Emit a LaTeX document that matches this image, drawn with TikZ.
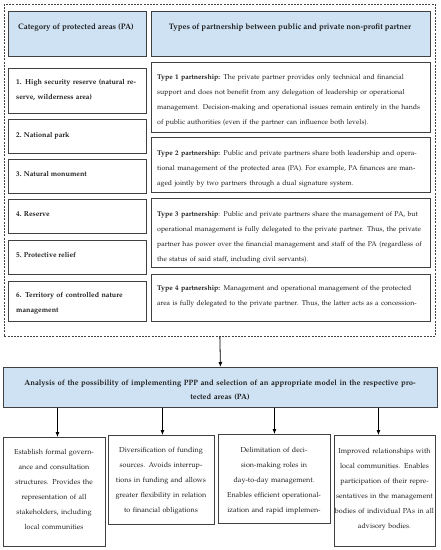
\documentclass[tikz,border=0pt]{standalone}
\usepackage[T1]{fontenc}
\usepackage{mathpazo}
\usetikzlibrary{arrows.meta}
\definecolor{headblue}{RGB}{207,226,243}
\definecolor{bord}{RGB}{64,64,64}
\definecolor{ink}{RGB}{30,30,30}
\newcommand\jl[1]{\noindent\hbox to\hsize{#1}\par}
\newcommand\lastl[1]{\noindent\hbox{#1}\par}
\begin{document}
\begin{tikzpicture}[x=1pt,y=-1pt,
 box/.style={draw=bord, line width=0.9pt, anchor=north west, inner sep=0pt, fill=white},
 hbox/.style={box, fill=headblue},
 outerbox/.style={draw=bord, line width=0.7pt, dash pattern=on 2pt off 1.2pt, anchor=north west, inner sep=0pt},
 txt/.style={inner sep=0pt, anchor=base west, text=ink, font=\fontsize{7}{15}\selectfont},
 btxt/.style={txt, font=\fontsize{7.2}{15}\selectfont\bfseries},
 htxt/.style={txt, anchor=base, font=\fontsize{7.9}{15}\selectfont\bfseries},
 ctxt/.style={txt, anchor=base, align=center, font=\fontsize{7.2}{15}\selectfont},
 arr/.style={-{Latex[length=5pt,width=4pt]}, line width=0.8pt, draw=black}
]
\useasboundingbox (0,0) rectangle (441,550);
\fill[white] (0,0) rectangle (441,550);
% outer dashed frame
\node[outerbox, minimum width=431pt, minimum height=332pt] (outer) at (4,4) {};
% headers
\node[hbox, minimum width=138pt, minimum height=45pt] (hl) at (8,11) {};
\node[hbox, minimum width=279pt, minimum height=45pt] (hr) at (151,11) {};
\node[htxt] (hlt) at (76,29) {Category of protected areas (PA)};
\node[htxt] (hrt) at (290,29) {Types of partnership between public and private non-profit partner};
% left category boxes
\node[box, minimum width=138pt, minimum height=45pt] (l1) at (8,68) {};
\node[box, minimum width=138pt, minimum height=34pt] (l2) at (8,119) {};
\node[box, minimum width=138pt, minimum height=34pt] (l3) at (8,159) {};
\node[box, minimum width=138pt, minimum height=34pt] (l4) at (8,199) {};
\node[box, minimum width=138pt, minimum height=34pt] (l5) at (8,240) {};
\node[box, minimum width=138pt, minimum height=40pt] (l6) at (8,281) {};
\node[btxt, text width=121pt] (l1t) at (16,84) {\jl{1. High security reserve (natural re-}\lastl{serve, wilderness area)}};
\node[btxt] (l2t) at (16,137) {2. National park};
\node[btxt] (l3t) at (16,176) {3. Natural monument};
\node[btxt] (l4t) at (16,216) {4. Reserve};
\node[btxt] (l5t) at (16,257) {5. Protective relief};
\node[btxt, text width=123pt] (l6t) at (16,297) {\jl{6. Territory of controlled nature}\lastl{management}};
% right type boxes
\node[box, minimum width=279pt, minimum height=70pt] (t1) at (151,62) {};
\node[box, minimum width=279pt, minimum height=55pt] (t2) at (151,137) {};
\node[box, minimum width=279pt, minimum height=69pt] (t3) at (151,198) {};
\node[box, minimum width=279pt, minimum height=47pt] (t4) at (151,274) {};
\node[txt, text width=257pt] (t1t) at (157,79) {%
\jl{\textbf{Type 1 partnership:} The private partner provides only technical and financial}%
\jl{support and does not benefit from any delegation of leadership or operational}%
\jl{management. Decision-making and operational issues remain entirely in the hands}%
\lastl{of public authorities (even if the partner can influence both levels).}};
\node[txt, text width=257pt] (t2t) at (157,155) {%
\jl{\textbf{Type 2 partnership:} Public and private partners share both leadership and opera-}%
\jl{tional management of the protected area (PA). For example, PA finances are man-}%
\lastl{aged jointly by two partners through a dual signature system.}};
\node[txt, text width=257pt] (t3t) at (157,216) {%
\jl{\textbf{Type 3 partnership}: Public and private partners share the management of PA, but}%
\jl{operational management is fully delegated to the private partner. Thus, the private}%
\jl{partner has power over the financial management and staff of the PA (regardless of}%
\lastl{the status of said staff, including civil servants).}};
\node[txt, text width=257pt] (t4t) at (157,290) {%
\jl{\textbf{Type 4 partnership:} Management and operational management of the protected}%
\jl{area is fully delegated to the private partner. Thus, the latter acts as a concession-}};
% analysis box
\node[hbox, minimum width=434pt, minimum height=40pt] (ana) at (3,367) {};
\node[ctxt, text width=425pt, font=\fontsize{7.7}{14}\selectfont\bfseries] (anat) at (220,385) {Analysis of the possibility of implementing PPP and selection of an appropriate model in the respective pro-\\tected areas (PA)};
% bottom boxes
\node[box, minimum width=102pt, minimum height=109pt] (ba) at (3,437) {};
\node[box, minimum width=106pt, minimum height=89pt] (bb) at (108,435) {};
\node[box, minimum width=112pt, minimum height=89pt] (bc) at (218,434) {};
\node[box, minimum width=101pt, minimum height=111pt] (bd) at (334,435) {};
\node[ctxt, text width=100pt] (bat) at (54,454) {Establish formal govern-\\ance and consultation\\structures. Provides the\\representation of all\\stakeholders, including\\local communities};
\node[ctxt, text width=104pt] (bbt) at (161,452) {Diversification of funding\\sources. Avoids interrup-\\tions in funding and allows\\greater flexibility in relation\\to financial obligations};
\node[ctxt, text width=110pt] (bct) at (274,452) {Delimitation of deci-\\sion-making roles in\\day-to-day management.\\Enables efficient operational-\\ization and rapid implemen-};
\node[ctxt, text width=104pt] (bdt) at (384.5,453) {Improved relationships with\\local communities. Enables\\participation of their repre-\\sentatives in the management\\bodies of individual PAs in all\\advisory bodies.};
% arrows
\draw[arr] (outer.south) -- (ana.north);
\draw[arr] ([xshift=3pt]ba.north |- ana.south) -- ([xshift=3pt]ba.north);
\draw[arr] ([xshift=1pt]bb.north |- ana.south) -- ([xshift=1pt]bb.north);
\draw[arr] (bc.north |- ana.south) -- (bc.north);
\draw[arr] ([xshift=-6.5pt]bd.north |- ana.south) -- ([xshift=-6.5pt]bd.north);
\end{tikzpicture}
\end{document}
